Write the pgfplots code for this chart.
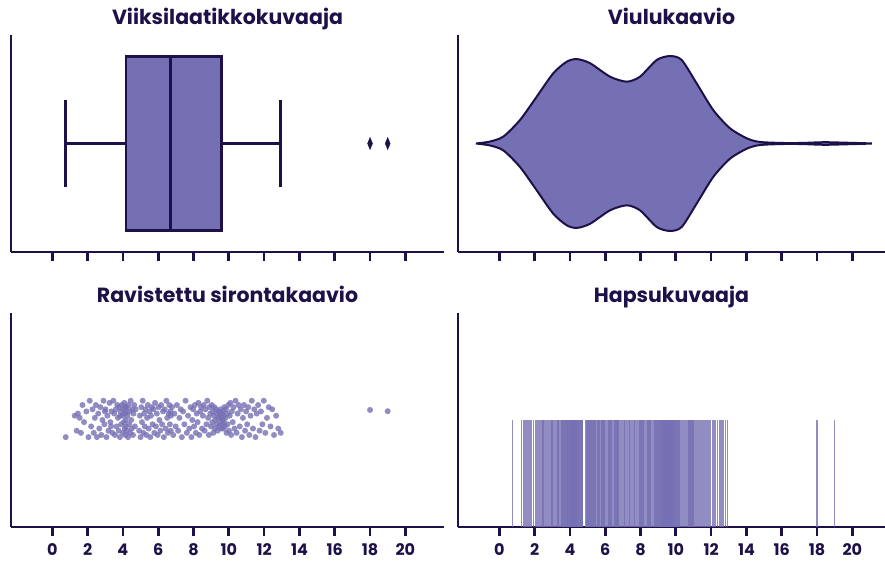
\documentclass[border=0pt]{standalone}
\usepackage{fontspec}
\setmainfont{Poppins}
\usepackage{pgfplots}
\pgfplotsset{compat=1.18}
\usepackage{pgfplotstable}
\definecolor{navy}{HTML}{1E1048}
\definecolor{vio}{HTML}{7570B3}

% x = value, j = vertical jitter (strip plot), h = middle of rug tick
\pgfplotstableread{
x j h
0.76 -0.08 0.25
1.27 0.02 0.25
1.38 -0.05 0.25
1.45 0.03 0.25
1.55 0.01 0.25
1.62 -0.06 0.25
1.71 0.07 0.25
1.80 -0.01 0.25
1.93 0.04 0.25
2.05 -0.08 0.25
2.12 0.09 0.25
2.20 -0.03 0.25
2.28 0.05 0.25
2.35 -0.06 0.25
2.41 0.01 0.25
2.47 0.07 0.25
2.53 -0.08 0.25
2.60 0.03 0.25
2.66 -0.04 0.25
2.72 0.06 0.25
2.78 -0.07 0.25
2.84 0.00 0.25
2.90 0.09 0.25
2.95 -0.02 0.25
2.98 0.04 0.25
3.01 0.05 0.25
3.07 -0.08 0.25
3.12 0.02 0.25
3.18 -0.05 0.25
3.24 0.08 0.25
3.29 -0.01 0.25
3.33 -0.03 0.25
3.35 0.04 0.25
3.40 -0.06 0.25
3.46 0.09 0.25
3.51 0.03 0.25
3.55 -0.07 0.25
3.60 0.05 0.25
3.64 -0.03 0.25
3.68 0.07 0.25
3.72 0.01 0.25
3.76 -0.05 0.25
3.80 0.06 0.25
3.83 -0.08 0.25
3.85 0.02 0.25
3.87 0.04 0.25
3.90 -0.02 0.25
3.94 0.07 0.25
3.97 0.02 0.25
4.00 -0.06 0.25
4.03 0.05 0.25
4.05 -0.01 0.25
4.08 0.08 0.25
4.10 -0.04 0.25
4.12 0.03 0.25
4.14 -0.07 0.25
4.15 0.06 0.25
4.16 0.00 0.25
4.17 -0.03 0.25
4.18 0.04 0.25
4.20 0.06 0.25
4.23 -0.05 0.25
4.26 0.02 0.25
4.29 -0.08 0.25
4.32 0.07 0.25
4.35 -0.02 0.25
4.38 0.04 0.25
4.41 -0.06 0.25
4.44 0.09 0.25
4.47 0.00 0.25
4.50 -0.04 0.25
4.53 0.05 0.25
4.57 -0.07 0.25
4.60 0.03 0.25
4.64 0.07 0.25
4.68 -0.03 0.25
4.72 0.05 0.25
4.92 -0.05 0.25
4.96 0.02 0.25
5.00 -0.08 0.25
5.04 0.06 0.25
5.08 -0.01 0.25
5.12 0.09 0.25
5.16 -0.06 0.25
5.20 0.03 0.25
5.24 -0.03 0.25
5.28 0.05 0.25
5.33 -0.07 0.25
5.37 0.01 0.25
5.41 0.07 0.25
5.46 -0.04 0.25
5.50 0.04 0.25
5.55 -0.08 0.25
5.59 0.02 0.25
5.64 0.06 0.25
5.68 -0.02 0.25
5.73 0.05 0.25
5.78 -0.06 0.25
5.82 0.08 0.25
5.87 -0.03 0.25
5.92 0.03 0.25
5.97 -0.07 0.25
6.02 0.06 0.25
6.07 0.00 0.25
6.12 -0.05 0.25
6.17 0.07 0.25
6.22 -0.02 0.25
6.27 0.04 0.25
6.32 -0.08 0.25
6.37 0.05 0.25
6.42 -0.04 0.25
6.46 0.09 0.25
6.51 0.01 0.25
6.55 -0.06 0.25
6.59 0.03 0.25
6.63 0.07 0.25
6.66 -0.02 0.25
6.69 0.04 0.25
6.71 -0.05 0.25
6.72 0.02 0.25
6.78 0.06 0.25
6.85 -0.07 0.25
6.92 0.03 0.25
6.99 -0.03 0.25
7.06 0.07 0.25
7.13 -0.05 0.25
7.20 0.01 0.25
7.27 0.05 0.25
7.34 -0.08 0.25
7.41 0.04 0.25
7.48 -0.02 0.25
7.55 0.09 0.25
7.62 -0.06 0.25
7.69 0.02 0.25
7.76 -0.04 0.25
7.83 0.06 0.25
7.88 -0.08 0.25
7.93 0.00 0.25
7.98 0.05 0.25
8.03 -0.03 0.25
8.08 0.07 0.25
8.13 -0.06 0.25
8.18 0.03 0.25
8.23 -0.01 0.25
8.28 0.08 0.25
8.33 -0.07 0.25
8.38 0.04 0.25
8.43 0.06 0.25
8.48 -0.04 0.25
8.53 0.02 0.25
8.58 0.07 0.25
8.63 -0.05 0.25
8.68 0.05 0.25
8.73 -0.02 0.25
8.78 0.09 0.25
8.83 0.01 0.25
8.87 -0.07 0.25
8.91 0.06 0.25
8.95 0.03 0.25
8.99 -0.03 0.25
9.03 0.07 0.25
9.06 -0.01 0.25
9.09 0.04 0.25
9.12 -0.06 0.25
9.15 0.02 0.25
9.18 0.06 0.25
9.21 -0.04 0.25
9.24 0.00 0.25
9.27 0.05 0.25
9.30 -0.02 0.25
9.33 0.03 0.25
9.36 -0.05 0.25
9.39 0.01 0.25
9.42 0.04 0.25
9.45 -0.03 0.25
9.48 0.02 0.25
9.51 -0.01 0.25
9.53 0.05 0.25
9.56 -0.04 0.25
9.58 0.01 0.25
9.60 0.03 0.25
9.62 -0.02 0.25
9.64 0.00 0.25
9.66 0.04 0.25
9.68 -0.04 0.25
9.70 0.02 0.25
9.72 -0.01 0.25
9.75 0.06 0.25
9.78 -0.03 0.25
9.81 0.01 0.25
9.84 0.05 0.25
9.87 -0.06 0.25
9.90 0.03 0.25
9.93 -0.02 0.25
9.97 0.07 0.25
10.01 -0.05 0.25
10.05 0.02 0.25
10.09 0.08 0.25
10.13 -0.07 0.25
10.17 0.04 0.25
10.22 -0.01 0.25
10.27 0.06 0.25
10.32 -0.04 0.25
10.38 0.09 0.25
10.44 -0.06 0.25
10.50 0.03 0.25
10.56 0.07 0.25
10.62 -0.03 0.25
10.68 0.05 0.25
10.74 -0.08 0.25
10.80 0.01 0.25
10.86 0.07 0.25
10.92 -0.05 0.25
10.98 0.04 0.25
11.04 -0.02 0.25
11.10 0.06 0.25
11.16 -0.07 0.25
11.23 0.02 0.25
11.30 0.09 0.25
11.37 -0.04 0.25
11.44 0.05 0.25
11.51 -0.08 0.25
11.58 0.03 0.25
11.66 0.07 0.25
11.74 -0.05 0.25
11.82 0.04 0.25
11.90 -0.02 0.25
11.98 0.09 0.25
12.07 -0.06 0.25
12.16 0.01 0.25
12.26 0.06 0.25
12.36 -0.03 0.25
12.46 0.05 0.25
12.56 -0.07 0.25
12.68 0.02 0.25
12.80 -0.04 0.25
12.94 -0.06 0.25
18.00 0.047 0.25
19.00 0.041 0.25
}\values

\pgfplotsset{
  panel/.style={
    scale only axis,
    axis x line=bottom, axis y line=left,
    axis line style={line width=2.7pt, navy, -},
    xtick={0,2,...,20},
    ytick=\empty,
    tick align=outside,
    major tick length=9pt,
    every tick/.style={line width=2.7pt, navy},
    /pgf/number format/assume math mode=true,
    xticklabel style={font=\fontsize{16}{16}\selectfont\bfseries, text=navy,
                      yshift=-4.5pt},
    title style={font=\fontsize{20.5}{20.5}\selectfont\bfseries, text=navy,
                 at={(0.5,1)}, anchor=base, yshift=4.5pt},
    clip=false,
  },
}

\begin{document}
\begin{tikzpicture}
\useasboundingbox (0pt,0pt) rectangle (885pt,560pt);

% box plot
\begin{axis}[panel, at={(11pt,308pt)}, anchor=south west,
  width=433pt, height=217pt, xmin=-2.34, xmax=22.19, ymin=-0.5, ymax=0.5,
  xticklabels={}, title={Viiksilaatikkokuvaaja}]
\addplot[fill=vio, draw=navy, line width=2.5pt] coordinates {
  (4.18,-0.4) (9.58,-0.4) (9.58,0.4) (4.18,0.4) (4.18,-0.4)} -- cycle;
\addplot[navy, line width=3pt] coordinates {(6.72,-0.4) (6.72,0.4)};
\addplot[navy, line width=2.8pt] coordinates {(0.76,0) (4.18,0)};
\addplot[navy, line width=2.8pt] coordinates {(9.58,0) (12.94,0)};
\addplot[navy, line width=2.8pt] coordinates {(0.76,-0.2) (0.76,0.2)};
\addplot[navy, line width=2.8pt] coordinates {(12.94,-0.2) (12.94,0.2)};
\addplot[only marks, navy, mark=diamond*, mark size=6pt,
  mark options={xscale=0.55, fill=navy, draw=navy}] coordinates {(18,0) (19,0)};
\end{axis}

% violin plot
\begin{axis}[panel, at={(458pt,308pt)}, anchor=south west,
  width=427pt, height=217pt, xmin=-2.34, xmax=21.85, ymin=-0.5, ymax=0.5,
  xticklabels={}, title={Viulukaavio}]
\addplot[fill=vio, draw=navy, line width=2pt, smooth, tension=0.45] coordinates {
  (-1.32,0) (-0.53,0.009) (0.23,0.032) (1.17,0.108) (2.12,0.216) (3.06,0.324)
  (3.82,0.377) (4.39,0.389) (5.14,0.370) (6.27,0.308) (7.22,0.285) (7.97,0.308)
  (8.92,0.385) (9.67,0.403) (10.33,0.385) (11.18,0.277) (12.12,0.154) (13.07,0.070)
  (14.02,0.024) (14.77,0.007) (16.28,0.002) (17.3,0.003) (18.4,0.006) (19.5,0.004)
  (20.4,0.002) (21.1,0)
  (20.4,-0.002) (19.5,-0.004) (18.4,-0.006) (17.3,-0.003) (16.28,-0.002)
  (14.77,-0.007) (14.02,-0.024) (13.07,-0.070) (12.12,-0.154) (11.18,-0.277)
  (10.33,-0.385) (9.67,-0.403) (8.92,-0.385) (7.97,-0.308) (7.22,-0.285)
  (6.27,-0.308) (5.14,-0.370) (4.39,-0.389) (3.82,-0.377) (3.06,-0.324)
  (2.12,-0.216) (1.17,-0.108) (0.23,-0.032) (-0.53,-0.009) (-1.32,0)};
\end{axis}

% strip plot
\begin{axis}[panel, at={(11pt,33pt)}, anchor=south west,
  width=433pt, height=214pt, xmin=-2.34, xmax=22.19, ymin=-0.5, ymax=0.5,
  title={Ravistettu sirontakaavio}]
\addplot[only marks, vio, mark=*, mark size=3pt,
  mark options={fill=vio, draw=vio, fill opacity=0.8, draw opacity=0}]
  table[x=x, y=j] {\values};
\end{axis}

% rug plot: one vertical tick mark per value, from 0 to 0.5 of the axis height
\begin{axis}[panel, at={(458pt,33pt)}, anchor=south west,
  width=427pt, height=214pt, xmin=-2.34, xmax=21.85, ymin=0, ymax=1,
  title={Hapsukuvaaja}]
\addplot[only marks, vio, mark=|, mark size=53.5pt,
  mark options={line width=1.4pt, draw=vio, draw opacity=0.8}]
  table[x=x, y=h] {\values};
\end{axis}
\end{tikzpicture}
\end{document}
